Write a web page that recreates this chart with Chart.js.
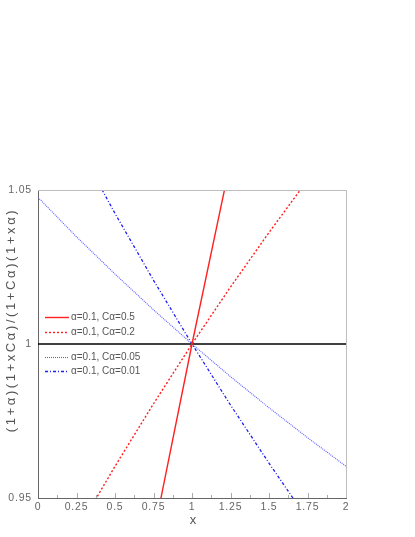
<!DOCTYPE html>
<html>
<head>
<meta charset="utf-8">
<script src="https://cdn.jsdelivr.net/npm/chart.js@4.4.1/dist/chart.umd.min.js"></script>
<style>
  html, body { margin: 0; padding: 0; background: #fff; }
  canvas { display: block; }
</style>
</head>
<body>
<canvas id="ratioChart" width="415" height="537"></canvas>
<script>
// values
const xValues = [0, 0.25, 0.5, 0.75, 1, 1.25, 1.5, 1.75, 2];
const ca05 = [0.7333, 0.8049, 0.8730, 0.9380, 1.0, 1.0593, 1.1159, 1.1702, 1.2222];
const ca02 = [0.9167, 0.9390, 0.9603, 0.9806, 1.0, 1.0185, 1.0362, 1.0532, 1.0694];
const ca005 = [1.0476, 1.0348, 1.0227, 1.0111, 1.0, 0.9894, 0.9793, 0.9696, 0.9603];
const ca001 = [1.0891, 1.0652, 1.0424, 1.0207, 1.0, 0.9802, 0.9613, 0.9431, 0.9257];
const unity = [1, 1, 1, 1, 1, 1, 1, 1, 1];

const xTickLabels = ['0', '0.25', '0.5', '0.75', '1', '1.25', '1.5', '1.75', '2'];
const yTickLabels = ['0.95', '1', '1.05'];
const legendLabels = ['α=0.1, Cα=0.5', 'α=0.1, Cα=0.2', 'α=0.1, Cα=0.05', 'α=0.1, Cα=0.01'];
const yTitle = '(1+α)(1+xCα)/(1+Cα)(1+xα)';
const xTitle = 'x';

const fontFamily = '"Liberation Sans", Arial, sans-serif';

function toPoints(ys) {
  return xValues.map((x, i) => ({ x: x, y: ys[i] }));
}

// line styles
const series = [
  { data: ca05, color: '#ff2020', dash: [], width: 1.4 },
  { data: ca02, color: '#ff2020', dash: [2, 2], width: 1.4 },
  { data: ca005, color: '#5a5aff', dash: [1, 1], width: 1.1 },
  { data: ca001, color: '#2020ee', dash: [3, 2, 1, 2], width: 1.3 }
];

const datasets = series.map((s, i) => ({
  label: legendLabels[i],
  data: toPoints(s.data),
  showLine: true,
  borderColor: s.color,
  borderDash: s.dash,
  borderWidth: s.width,
  pointRadius: 0,
  fill: false
}));
datasets.push({
  label: 'unity',
  data: toPoints(unity),
  showLine: true,
  borderColor: '#000',
  borderWidth: 1.4,
  pointRadius: 0,
  fill: false
});

// 틱, 프레임, 범례, 축 제목
const decorPlugin = {
  id: 'decor',
  beforeDraw(chart) {
    chart.ctx.letterSpacing = '0.8px';
  },
  afterDraw(chart) {
    const ctx = chart.ctx;
    const area = chart.chartArea;
    const xs = chart.scales.x;
    ctx.save();

    // top and right frame
    ctx.strokeStyle = '#bdbdbd';
    ctx.lineWidth = 1;
    ctx.beginPath();
    ctx.moveTo(area.left, area.top + 0.5);
    ctx.lineTo(area.right + 0.5, area.top + 0.5);
    ctx.lineTo(area.right + 0.5, area.bottom);
    ctx.stroke();

    // inner ticks on x axis
    ctx.strokeStyle = '#aaaaaa';
    for (let v = 0.125; v < 2; v += 0.125) {
      const px = Math.round(xs.getPixelForValue(v)) + 0.5;
      const len = (Math.round(v * 8) % 2 === 0) ? 5 : 3;
      ctx.beginPath();
      ctx.moveTo(px, area.bottom);
      ctx.lineTo(px, area.bottom - len);
      ctx.stroke();
    }

    // legend
    const rows = [317, 332, 357, 371];
    ctx.font = '10px ' + fontFamily;
    ctx.letterSpacing = '0px';
    ctx.textBaseline = 'middle';
    ctx.textAlign = 'left';
    series.forEach((s, i) => {
      const y = rows[i] + 0.5;
      ctx.strokeStyle = s.color;
      ctx.lineWidth = s.width;
      ctx.setLineDash(s.dash);
      ctx.beginPath();
      ctx.moveTo(45, y);
      ctx.lineTo(69, y);
      ctx.stroke();
      ctx.setLineDash([]);
      ctx.fillStyle = '#555';
      ctx.fillText(legendLabels[i], 71, rows[i]);
    });

    // axis titles
    ctx.fillStyle = '#555';
    ctx.font = '13px ' + fontFamily;
    ctx.letterSpacing = '2.6px';
    ctx.textAlign = 'center';
    ctx.translate(11, 320);
    ctx.rotate(-Math.PI / 2);
    ctx.fillText(yTitle, 0, 0);
    ctx.setTransform(1, 0, 0, 1, 0, 0);
    ctx.letterSpacing = '0px';
    ctx.fillText(xTitle, 193, 520);

    ctx.restore();
  }
};

new Chart(document.getElementById('ratioChart'), {
  type: 'scatter',
  data: { datasets: datasets },
  options: {
    responsive: false,
    animation: false,
    devicePixelRatio: 1,
    layout: { padding: { top: 190, right: 69, left: 0, bottom: 0 } },
    plugins: {
      legend: { display: false },
      tooltip: { enabled: false }
    },
    scales: {
      x: {
        type: 'linear',
        min: 0,
        max: 2,
        afterFit(scale) { scale.height = 39; },
        grid: { drawOnChartArea: false, drawTicks: false },
        border: { display: true, color: '#666', width: 1 },
        ticks: {
          stepSize: 0.25,
          padding: 3,
          color: '#666',
          font: { size: 10.5, family: fontFamily },
          maxRotation: 0,
          callback: (v) => xTickLabels[Math.round(v * 4)]
        }
      },
      y: {
        type: 'linear',
        min: 0.95,
        max: 1.05,
        afterFit(scale) { scale.width = 38; },
        grid: { drawOnChartArea: false, drawTicks: false },
        border: { display: true, color: '#666', width: 1 },
        ticks: {
          stepSize: 0.05,
          padding: 6,
          color: '#666',
          font: { size: 10.5, family: fontFamily },
          callback: (v) => yTickLabels[Math.round((v - 0.95) * 20)]
        }
      }
    }
  },
  plugins: [decorPlugin]
});
</script>
</body>
</html>
